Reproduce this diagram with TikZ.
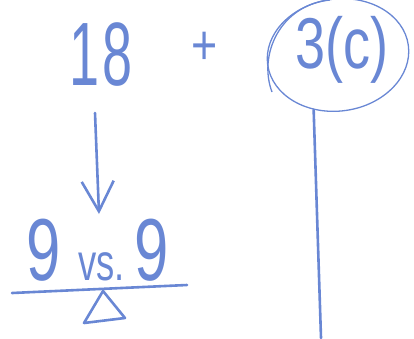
\documentclass[tikz,border=0pt]{standalone}
\usepackage{fontspec}
\setmainfont{Liberation Sans}
\usetikzlibrary{arrows.meta,shapes.geometric}
\definecolor{pen}{RGB}{105,135,212}
\begin{document}
\begin{tikzpicture}[x=1pt,y=-1pt,
  hand/.style={text=pen,inner sep=0pt},
  stroke/.style={draw=pen,line width=2.6pt,line cap=round,line join=round},
  thin/.style={draw=pen,line width=1.3pt}]
\useasboundingbox (0,0) rectangle (414,338);
\node[hand,font=\fontsize{90}{90}\selectfont,xscale=0.6] (n18) at (101,55) {1\hspace{6pt}8};
\node[hand,font=\fontsize{56}{56}\selectfont,xscale=0.8] (plus) at (205,48) {+};
\node[hand,font=\fontsize{72}{72}\selectfont,xscale=0.75] (c3) at (342,50) {3(c)};
\node[thin,ellipse,minimum width=142pt,minimum height=112pt,rotate=8] (circ) at (338,55) {};
\draw[thin] (272,92) .. controls (258,55) and (280,5) .. (330,0);
\node[hand,anchor=base,font=\fontsize{88}{88}\selectfont,xscale=0.7] (nine) at (98,280) {9 \fontsize{52}{52}\selectfont vs.\ \fontsize{88}{88}\selectfont 9};
\coordinate (atop) at (95,113);
\coordinate (atip) at (99,214);
\draw[stroke,-{Straight Barb[length=30pt,width=32pt,line width=2.6pt]}] (atop) -- (atip);
\coordinate (bl) at (12,293);
\coordinate (br) at (187,285);
\draw[stroke] (bl) -- (br);
\coordinate (tapex) at (103,291);
\coordinate (tl) at (84,323);
\coordinate (tr) at (125,318);
\draw[stroke] (tapex) -- (tl) -- (tr) -- cycle;
\coordinate (vend) at (321,338);
\draw[stroke] (circ.238) -- (vend);
\end{tikzpicture}
\end{document}
